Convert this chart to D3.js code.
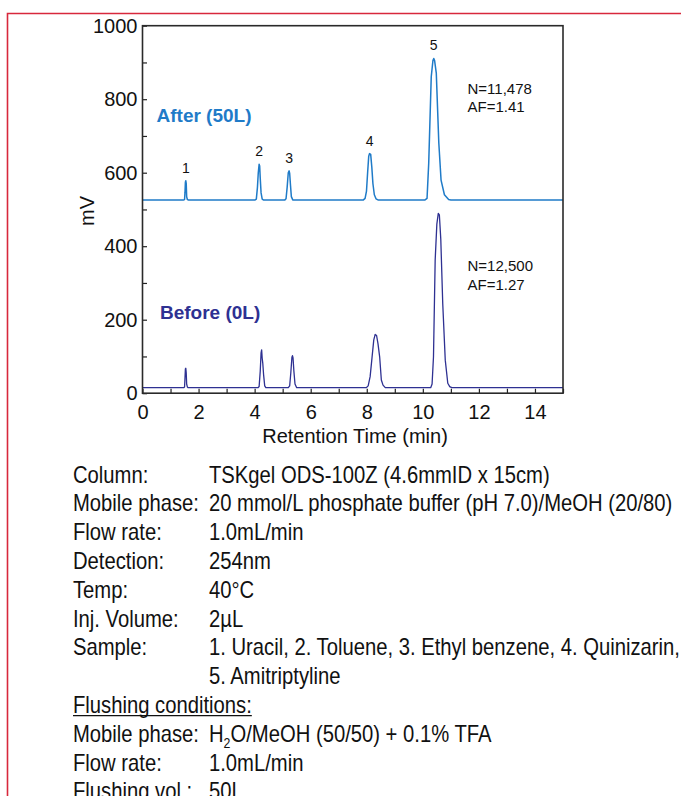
<!DOCTYPE html>
<html>
<head>
<meta charset="utf-8">
<script src="https://cdn.jsdelivr.net/npm/d3@7"></script>
<style>
  html, body { margin: 0; padding: 0; background: #fff; overflow: hidden; }
  svg { display: block; }
  text { font-family: "Liberation Sans", Arial, Helvetica, sans-serif; }
</style>
</head>
<body>
<svg id="chart" width="681" height="796"></svg>
<script>
// Chromatogram traces: retention time (min) and detector signal (mV)
const afterTimes = [0, 1.47, 1.50, 1.515, 1.53, 1.545, 1.56, 1.575, 1.60, 1.63,
  4.02, 4.06, 4.10, 4.13, 4.16, 4.18, 4.20, 4.23, 4.27, 4.31,
  5.08, 5.12, 5.16, 5.20, 5.23, 5.25, 5.28, 5.31, 5.36,
  7.88, 7.94, 7.99, 8.03, 8.07, 8.10, 8.14, 8.18, 8.22, 8.27, 8.33, 8.40,
  10.08, 10.15, 10.21, 10.30, 10.36, 10.39, 10.42, 10.48, 10.57, 10.65, 10.77, 10.92, 11.0,
  15];
const afterSignal = [526, 526, 527, 545, 574, 578, 570, 535, 527, 526,
  526, 528, 560, 600, 623, 618, 585, 545, 528, 526,
  526, 529, 560, 600, 605, 598, 565, 535, 526,
  526, 530, 550, 600, 645, 652, 650, 615, 570, 540, 529, 526,
  526, 530, 626, 861, 905, 911, 905, 871, 681, 580, 540, 527, 526,
  526];

const beforeTimes = [0, 1.47, 1.50, 1.515, 1.53, 1.545, 1.56, 1.575, 1.60, 1.63,
  4.12, 4.16, 4.20, 4.23, 4.25, 4.27, 4.29, 4.32, 4.36, 4.40,
  5.20, 5.25, 5.29, 5.33, 5.35, 5.37, 5.40, 5.44, 5.50,
  7.98, 8.05, 8.12, 8.19, 8.25, 8.30, 8.35, 8.40, 8.46, 8.52, 8.58, 8.66,
  10.28, 10.33, 10.38, 10.44, 10.50, 10.55, 10.59, 10.64, 10.71, 10.80, 10.89, 10.96, 11.03,
  15];
const beforeSignal = [15, 15, 17, 40, 66, 68, 55, 25, 17, 15,
  15, 18, 60, 110, 118, 95, 82, 50, 20, 15,
  15, 20, 55, 98, 102, 96, 60, 25, 15,
  15, 20, 45, 99, 145, 160, 157, 135, 99, 36, 22, 15,
  15, 25, 99, 362, 460, 489, 485, 420, 244, 90, 27, 18, 15,
  15];

// Peak numbers shown above the upper trace
const peakIds = ["1", "2", "3", "4", "5"];
const peakTimes = [1.545, 4.16, 5.23, 8.10, 10.39];
const peakHeights = [578, 623, 605, 652, 911];

// Axis ticks
const xTicks = [0, 1, 2, 3, 4, 5, 6, 7, 8, 9, 10, 11, 12, 13, 14, 15];
const xTickLabels = [0, 2, 4, 6, 8, 10, 12, 14];
const yTicks = [0, 100, 200, 300, 400, 500, 600, 700, 800, 900, 1000];
const yTickLabels = [0, 200, 400, 600, 800, 1000];

// Trace names and peak statistics
const seriesNames = ["After (50L)", "Before (0L)"];
const afterStats = ["N=11,478", "AF=1.41"];
const beforeStats = ["N=12,500", "AF=1.27"];

// Analytical conditions listed below the chart
const conditionLabels = ["Column:", "Mobile phase:", "Flow rate:", "Detection:", "Temp:", "Inj. Volume:", "Sample:", ""];
const conditionValues = [
  "TSKgel ODS-100Z (4.6mmID x 15cm)",
  "20 mmol/L phosphate buffer (pH 7.0)/MeOH (20/80)",
  "1.0mL/min",
  "254nm",
  "40°C",
  "2µL",
  "1. Uracil, 2. Toluene, 3. Ethyl benzene, 4. Quinizarin,",
  "5. Amitriptyline"
];
const flushingTitle = "Flushing conditions:";
const flushingLabels = ["Mobile phase:", "Flow rate:", "Flushing vol.:"];
const flushingValues = [null, "1.0mL/min", "50L"];

const afterColor = "#1f7bc8";
const beforeColor = "#2e3192";

const svg = d3.select("#chart");

// red page frame
svg.append("path")
  .attr("d", "M7.5,796 L7.5,13.5 L681,13.5")
  .attr("fill", "none")
  .attr("stroke", "#d8283c")
  .attr("stroke-width", 1.6);

const x = d3.scaleLinear().domain([0, 15]).range([142.5, 563]);
const y = d3.scaleLinear().domain([0, 1000]).range([393.2, 25.7]);

// axes with inward ticks
const yAxis = d3.axisLeft(y)
  .tickValues(yTicks)
  .tickSizeInner(-4.5)
  .tickSizeOuter(0)
  .tickPadding(5)
  .tickFormat(d => yTickLabels.includes(d) ? d : "");
const xAxis = d3.axisBottom(x)
  .tickValues(xTicks)
  .tickSizeInner(-4.5)
  .tickSizeOuter(0)
  .tickPadding(12)
  .tickFormat(d => xTickLabels.includes(d) ? d : "");

const gy = svg.append("g").attr("transform", `translate(${x(0)},0)`).call(yAxis);
const gx = svg.append("g").attr("transform", `translate(0,${y(0)})`).call(xAxis);
[gx, gy].forEach(g => {
  g.select(".domain").remove();
  g.selectAll("line").attr("stroke", "#222").attr("stroke-width", 1.2);
  g.selectAll("text").attr("fill", "#111").style("font-size", "20px")
    .style("font-family", "'Liberation Sans', Arial, sans-serif");
});

// traces
const line = d3.line().x(d => x(d[0])).y(d => y(d[1]));
svg.append("path")
  .datum(afterTimes.map((t, i) => [t, afterSignal[i]]))
  .attr("d", line)
  .attr("fill", "none")
  .attr("stroke", afterColor)
  .attr("stroke-width", 1.5)
  .attr("stroke-linejoin", "round");
svg.append("path")
  .datum(beforeTimes.map((t, i) => [t, beforeSignal[i]]))
  .attr("d", line)
  .attr("fill", "none")
  .attr("stroke", beforeColor)
  .attr("stroke-width", 1.3)
  .attr("stroke-linejoin", "round");

// plot frame
svg.append("rect")
  .attr("x", x(0)).attr("y", y(1000))
  .attr("width", x(15) - x(0)).attr("height", y(0) - y(1000))
  .attr("fill", "none")
  .attr("stroke", "#2a2a2a")
  .attr("stroke-width", 1.6);

// peak numbers
svg.append("g").selectAll("text")
  .data(peakIds)
  .join("text")
  .attr("x", (d, i) => x(peakTimes[i]))
  .attr("y", (d, i) => y(peakHeights[i]) - 8)
  .attr("text-anchor", "middle")
  .style("font-size", "14px")
  .attr("fill", "#111")
  .text(d => d);

// trace names
svg.append("text")
  .attr("x", 156.5).attr("y", 121.8)
  .style("font-size", "19px").style("font-weight", "bold")
  .attr("fill", afterColor)
  .text(seriesNames[0]);
svg.append("text")
  .attr("x", 160).attr("y", 318.5)
  .style("font-size", "19px").style("font-weight", "bold")
  .attr("fill", beforeColor)
  .text(seriesNames[1]);

// plate count / asymmetry notes
svg.append("g").selectAll("text")
  .data(afterStats)
  .join("text")
  .attr("x", 467.5).attr("y", (d, i) => 93.7 + i * 18.5)
  .style("font-size", "15px").attr("fill", "#111")
  .text(d => d);
svg.append("g").selectAll("text")
  .data(beforeStats)
  .join("text")
  .attr("x", 467.5).attr("y", (d, i) => 271 + i * 18.5)
  .style("font-size", "15px").attr("fill", "#111")
  .text(d => d);

// axis titles
svg.append("text")
  .attr("x", 355).attr("y", 442.5)
  .attr("text-anchor", "middle")
  .style("font-size", "20px").attr("fill", "#111")
  .text("Retention Time (min)");
svg.append("text")
  .attr("transform", "translate(94,211) rotate(-90)")
  .attr("text-anchor", "middle")
  .style("font-size", "20px").attr("fill", "#111")
  .text("mV");

// conditions block (condensed type)
const sx = 0.88;
const lineH = 28.8;
const blockTop = 482.7;
const block = svg.append("g").attr("transform", `translate(73,0) scale(${sx},1)`);
const valX = (209 - 73) / sx;
const fs = "23px";

conditionLabels.forEach((lab, i) => {
  const yy = blockTop + i * lineH;
  if (lab) block.append("text").attr("x", 0).attr("y", yy).style("font-size", fs).attr("fill", "#111").text(lab);
  block.append("text").attr("x", valX).attr("y", yy).style("font-size", fs).attr("fill", "#111").text(conditionValues[i]);
});

const fy = blockTop + conditionLabels.length * lineH;
const ft = block.append("text").attr("x", 0).attr("y", fy).style("font-size", fs).attr("fill", "#111").text(flushingTitle);
const fw = ft.node().getComputedTextLength();
block.append("line")
  .attr("x1", 0).attr("x2", fw)
  .attr("y1", fy + 2.5).attr("y2", fy + 2.5)
  .attr("stroke", "#111").attr("stroke-width", 1.3);

flushingLabels.forEach((lab, i) => {
  const yy = fy + (i + 1) * lineH;
  block.append("text").attr("x", 0).attr("y", yy).style("font-size", fs).attr("fill", "#111").text(lab);
  if (flushingValues[i] !== null) {
    block.append("text").attr("x", valX).attr("y", yy).style("font-size", fs).attr("fill", "#111").text(flushingValues[i]);
  } else {
    const t = block.append("text").attr("x", valX).attr("y", yy).style("font-size", fs).attr("fill", "#111");
    t.append("tspan").text("H");
    t.append("tspan").attr("dy", 6).style("font-size", "14px").text("2");
    t.append("tspan").attr("dy", -6).text("O/MeOH (50/50) + 0.1% TFA");
  }
});
</script>
</body>
</html>
